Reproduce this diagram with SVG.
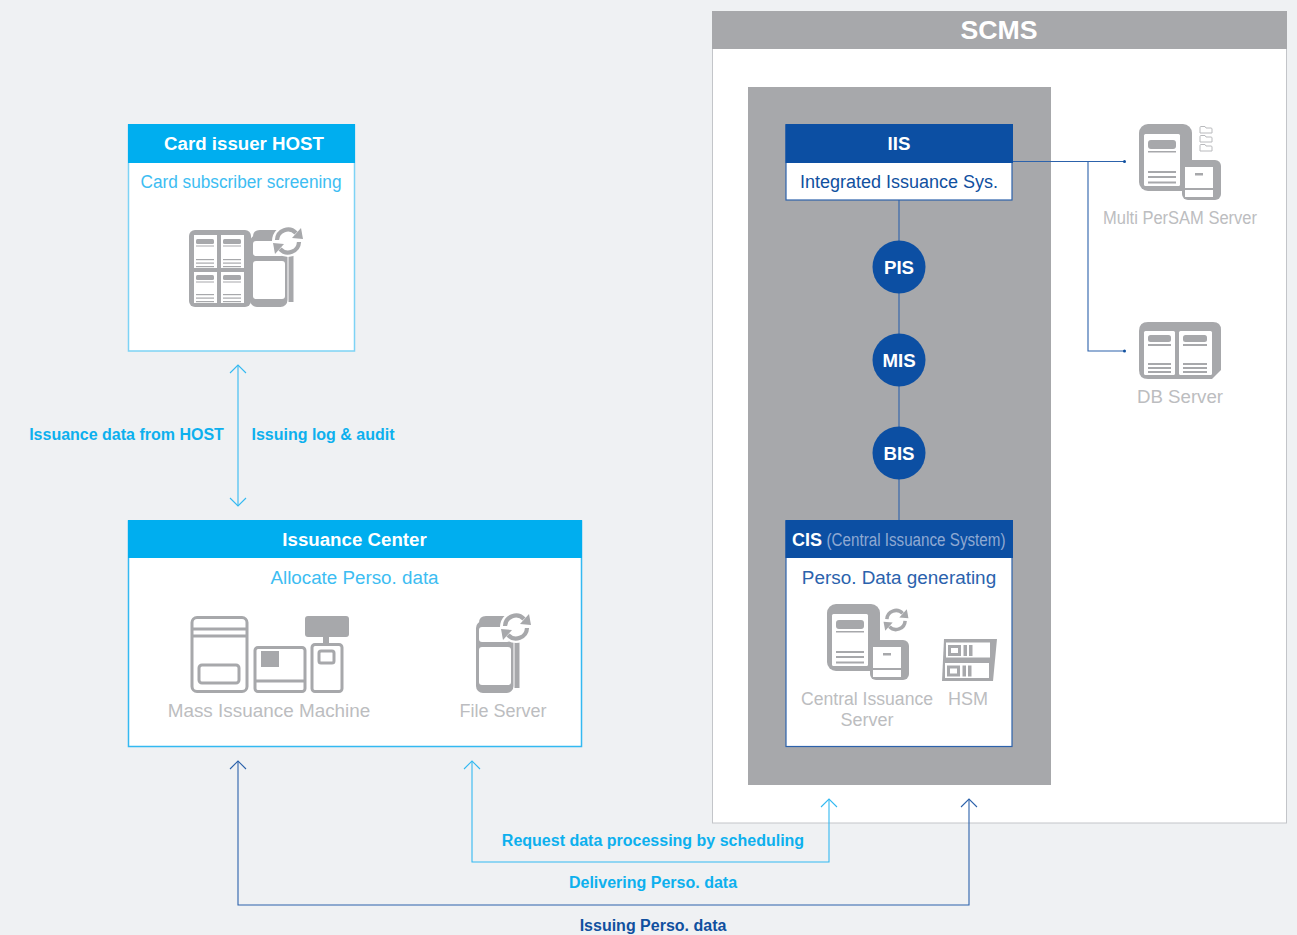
<svg xmlns="http://www.w3.org/2000/svg" xmlns:xlink="http://www.w3.org/1999/xlink" width="1297" height="935" viewBox="0 0 1297 935">
<style>
text{font-family:"Liberation Sans",Arial,sans-serif;text-anchor:middle}
.hd{font-size:18.700px;font-weight:700;fill:#fff}
.sub{font-size:18.800px;fill:#3dbdf2}
.subd{font-size:18.900px;fill:#2a62ad}
.gl{font-size:18.900px;fill:#bcbdc0}
.lc{font-size:16px;font-weight:700;fill:#0db0ee}
.ld{font-size:16px;font-weight:700;fill:#10509f}
.hub{fill:#0c4fa3}
.g{fill:#a7a8ab}
.w{fill:#fff}
.cy{fill:none;stroke:#33b9f1;stroke-width:1.100}
.bl{fill:none;stroke:#2c62ab;stroke-width:1.100}
.ig{fill:none;stroke:#a7a8ab;stroke-width:3}
</style>
<defs>
<g id="server">
<rect x="0" y="0" width="53" height="67" rx="9" class="g"/>
<rect x="5" y="10" width="36" height="52" rx="1.500" class="w"/>
<rect x="9" y="16" width="28" height="9" rx="3" class="g"/>
<rect x="9" y="27" width="28" height="1.500" class="g"/>
<rect x="9" y="47" width="28" height="2" class="g"/>
<rect x="9" y="52" width="28" height="2" class="g"/>
<rect x="9" y="57.500" width="28" height="2" class="g"/>
<rect x="43" y="36" width="39" height="40" rx="6" class="g"/>
<rect x="46" y="43" width="28" height="30" class="w"/>
<rect x="46" y="64" width="28" height="2" class="g"/>
<rect x="56" y="49" width="8" height="2.500" class="g"/>
</g>
<g id="sync">
<path d="M-11 -1 A11 11 0 0 1 8 -8" fill="none" stroke="#a7a8ab" stroke-width="4.200"/>
<path d="M11 1 A11 11 0 0 1 -8 8" fill="none" stroke="#a7a8ab" stroke-width="4.200"/>
<path d="M4 -3 L15 -2 L13 -13 Z" class="g"/>
<path d="M-4 3 L-15 2 L-13 13 Z" class="g"/>
</g>
<g id="phone">
<path d="M3 7 Q3 0 10 0 H30 V7 Z" class="g"/>
<rect x="38.500" y="19" width="5" height="53" class="g"/>
<rect x="0" y="5" width="37.500" height="72" rx="7" class="g"/>
<rect x="3" y="11" width="31" height="15" rx="3" class="w"/>
<rect x="3" y="31" width="32" height="38" rx="3" class="w"/>
</g>
<marker id="ac" markerWidth="20" markerHeight="20" refX="9" refY="9" orient="auto-start-reverse" markerUnits="userSpaceOnUse"><path d="M1 1 L9 9 L1 17" fill="none" stroke="#33b9f1" stroke-width="1.100"/></marker>
<marker id="ab" markerWidth="20" markerHeight="20" refX="9" refY="9" orient="auto-start-reverse" markerUnits="userSpaceOnUse"><path d="M1 1 L9 9 L1 17" fill="none" stroke="#2c62ab" stroke-width="1.100"/></marker>
</defs>

<rect width="1297" height="935" fill="#eff1f3"/>

<g id="scms">
<rect x="712.500" y="12" width="574" height="811" fill="#fff" stroke="#c3c5c9"/>
<rect x="712" y="11" width="575" height="38" class="g"/>
<text x="999" y="39" style="font-size:26.700px;font-weight:700;fill:#fff">SCMS</text>
<rect x="748" y="87" width="303" height="698" class="g"/>
</g>

<g id="connectors">
<path class="bl" d="M899 200V521"/>
<path class="bl" d="M1012 161.500H1124M1088 161.500V351H1124"/>
<circle cx="1124.500" cy="161.500" r="1.500" fill="#10509f"/>
<circle cx="1124.500" cy="351" r="1.500" fill="#10509f"/>
<path class="cy" d="M238 365V506" marker-start="url(#ac)" marker-end="url(#ac)"/>
<path class="cy" d="M458 658.500H364" marker-end="url(#ac)"/>
<path class="cy" d="M472 761V862H829V799" marker-start="url(#ac)" marker-end="url(#ac)"/>
<path class="bl" d="M238 761V905H969V799" marker-start="url(#ab)" marker-end="url(#ab)"/>
</g>

<g id="card-issuer-host">
<rect x="128.500" y="125" width="226" height="226" fill="#fff" stroke="#7dd3f5" stroke-width="1.500"/>
<rect x="128" y="124" width="227" height="39" fill="#00aeef"/>
<text class="hd" x="244" y="150">Card issuer HOST</text>
<text class="sub" x="241" y="188" textLength="201" lengthAdjust="spacingAndGlyphs">Card subscriber screening</text>
<use xlink:href="#phone" href="#phone" x="250" y="230"/>
<rect x="189" y="230" width="62" height="77" rx="6" class="g"/>
<g id="host-panels">
<rect x="194" y="235" width="23" height="33" class="w"/><rect x="221" y="235" width="23" height="33" class="w"/>
<rect x="194" y="272" width="23" height="31" class="w"/><rect x="221" y="272" width="23" height="31" class="w"/>
<g class="g">
<rect x="196" y="239" width="18" height="5" rx="1.500"/><rect x="223" y="239" width="18" height="5" rx="1.500"/>
<rect x="196" y="245.500" width="18" height="1"/><rect x="223" y="245.500" width="18" height="1"/>
<rect x="196" y="259" width="18" height="1.200"/><rect x="196" y="262.500" width="18" height="1.200"/><rect x="196" y="266" width="18" height="1.200"/>
<rect x="223" y="259" width="18" height="1.200"/><rect x="223" y="262.500" width="18" height="1.200"/><rect x="223" y="266" width="18" height="1.200"/>
<rect x="196" y="275" width="18" height="5" rx="1.500"/><rect x="223" y="275" width="18" height="5" rx="1.500"/>
<rect x="196" y="281.500" width="18" height="1"/><rect x="223" y="281.500" width="18" height="1"/>
<rect x="196" y="294" width="18" height="1.200"/><rect x="196" y="297.500" width="18" height="1.200"/><rect x="196" y="301" width="18" height="1.200"/>
<rect x="223" y="294" width="18" height="1.200"/><rect x="223" y="297.500" width="18" height="1.200"/><rect x="223" y="301" width="18" height="1.200"/>
</g>
</g>
<circle cx="288" cy="241" r="16" fill="#fff"/>
<use xlink:href="#sync" href="#sync" x="288" y="241"/>
</g>

<g id="issuance-center">
<rect x="128.500" y="521" width="453" height="225.500" fill="#fff" stroke="#33b9f1" stroke-width="1.500"/>
<rect x="128" y="520" width="454" height="38" fill="#00aeef"/>
<text class="hd" x="354.500" y="546">Issuance Center</text>
<text class="sub" x="354.500" y="584">Allocate Perso. data</text>
<g id="mass-issuance-machine">
<rect x="192" y="617.500" width="55" height="74" rx="5" fill="#fff" stroke="#a7a8ab" stroke-width="3"/>
<path class="ig" d="M192 629H247M192 636H247"/>
<rect x="199" y="665" width="40" height="18" rx="3" class="ig"/>
<rect x="255" y="647.500" width="50" height="44" rx="3" fill="#fff" stroke="#a7a8ab" stroke-width="3"/>
<rect x="261" y="651" width="18" height="16" class="g"/>
<path class="ig" d="M255 681H305"/>
<rect x="305" y="616" width="44" height="21" rx="3" class="g"/>
<rect x="323" y="636" width="6" height="9" class="g"/>
<rect x="312" y="644.500" width="30" height="47" rx="3" fill="#fff" stroke="#a7a8ab" stroke-width="3"/>
<rect x="319" y="651" width="15" height="12" rx="2" class="ig"/>
<text class="gl" x="269" y="717">Mass Issuance Machine</text>
</g>
<g id="file-server">
<use xlink:href="#phone" href="#phone" x="476" y="616"/>
<circle cx="516" cy="627" r="16" fill="#fff"/>
<use xlink:href="#sync" href="#sync" x="516" y="627"/>
<text x="503" y="717" style="font-size:18px;fill:#bcbdc0">File Server</text>
</g>
</g>

<g id="iis">
<rect x="786" y="125" width="226" height="75" fill="#fff" stroke="#2c62ab" stroke-width="1.200"/>
<rect x="785.500" y="124" width="227.500" height="39" fill="#0c4fa3"/>
<text class="hd" x="899" y="150">IIS</text>
<text x="899" y="188" style="font-size:18px;fill:#10509f">Integrated Issuance Sys.</text>
</g>
<g id="pis"><circle class="hub" cx="899" cy="267" r="26.500"/><text class="hd" x="899" y="273.500">PIS</text></g>
<g id="mis"><circle class="hub" cx="899" cy="360" r="26.500"/><text class="hd" x="899" y="366.500">MIS</text></g>
<g id="bis"><circle class="hub" cx="899" cy="453" r="26.500"/><text class="hd" x="899" y="459.500">BIS</text></g>

<g id="cis">
<rect x="786" y="521" width="226" height="225.500" fill="#fff" stroke="#2c62ab" stroke-width="1.200"/>
<rect x="785.500" y="520" width="227.500" height="38" fill="#0c4fa3"/>
<text class="hd" x="807" y="546" textLength="30" lengthAdjust="spacingAndGlyphs">CIS</text>
<text x="916" y="546" style="font-size:18px;fill:#8fa9d2" textLength="179" lengthAdjust="spacingAndGlyphs">(Central Issuance System)</text>
<text class="subd" x="899" y="584">Perso. Data generating</text>
<use xlink:href="#server" href="#server" x="827" y="604"/>
<circle cx="896" cy="620" r="13" fill="#fff"/>
<use xlink:href="#sync" href="#sync" transform="translate(896,620) scale(.83)"/>
<g id="hsm">
<path d="M944 639H997L995 660H943Z" class="g"/>
<path d="M943 660H995L993 681H942Z" class="g"/>
<rect x="946" y="642.500" width="44" height="15" class="w"/>
<rect x="945" y="663" width="44" height="15" class="w"/>
<rect x="948" y="645" width="13" height="11" class="g"/>
<rect x="947" y="665.500" width="13" height="11" class="g"/>
<rect x="951" y="648" width="7" height="5" class="w"/>
<rect x="950" y="668.500" width="7" height="5" class="w"/>
<rect x="963.500" y="645" width="3.500" height="11" class="g"/><rect x="969" y="645" width="3.500" height="11" class="g"/>
<rect x="962.500" y="665.500" width="3.500" height="11" class="g"/><rect x="968" y="665.500" width="3.500" height="11" class="g"/>
<text x="968" y="705" style="font-size:18px;fill:#bcbdc0">HSM</text>
</g>
<text x="867" y="705" style="font-size:18px;fill:#bcbdc0" textLength="132" lengthAdjust="spacingAndGlyphs">Central Issuance</text>
<text x="867" y="726" style="font-size:18px;fill:#bcbdc0">Server</text>
</g>

<g id="multi-persam-server">
<use xlink:href="#server" href="#server" x="1139" y="124"/>
<g fill="none" stroke="#b9babd" stroke-width="1">
<path d="M1200 127.500a1 1 0 0 1 1-1h4l1 1.500h5a1 1 0 0 1 1 1v4h-12Z"/>
<path d="M1200 136.500a1 1 0 0 1 1-1h4l1 1.500h5a1 1 0 0 1 1 1v4h-12Z"/>
<path d="M1200 145.500a1 1 0 0 1 1-1h4l1 1.500h5a1 1 0 0 1 1 1v4h-12Z"/>
</g>
<text class="gl" style="font-size:18px" x="1180" y="224" textLength="154" lengthAdjust="spacingAndGlyphs">Multi PerSAM Server</text>
</g>
<g id="db-server">
<path d="M1148 322H1213Q1221 322 1221 330V370L1212 379H1148Q1139 379 1139 370V331Q1139 322 1148 322Z" class="g"/>
<rect x="1144" y="331" width="31" height="44" rx="1.500" class="w"/>
<rect x="1179" y="331" width="33" height="44" rx="1.500" class="w"/>
<g class="g">
<rect x="1148" y="335" width="23" height="7" rx="2.500"/><rect x="1148" y="344" width="23" height="2"/>
<rect x="1148" y="363" width="23" height="2"/><rect x="1148" y="367" width="23" height="2"/><rect x="1148" y="371" width="23" height="2"/>
<rect x="1183" y="335" width="24" height="7" rx="2.500"/><rect x="1183" y="344" width="24" height="2"/>
<rect x="1183" y="363" width="24" height="2"/><rect x="1183" y="367" width="24" height="2"/><rect x="1183" y="371" width="24" height="2"/>
</g>
<text class="gl" style="font-size:18.700px" x="1180" y="403">DB Server</text>
</g>

<g id="labels">
<text class="lc" x="126.500" y="440">Issuance data from HOST</text>
<text class="lc" x="323" y="440">Issuing log &amp; audit</text>
<text class="lc" x="653" y="846">Request data processing by scheduling</text>
<text class="lc" x="653" y="888">Delivering Perso. data</text>
<text class="ld" x="653" y="931">Issuing Perso. data</text>
</g>
</svg>
